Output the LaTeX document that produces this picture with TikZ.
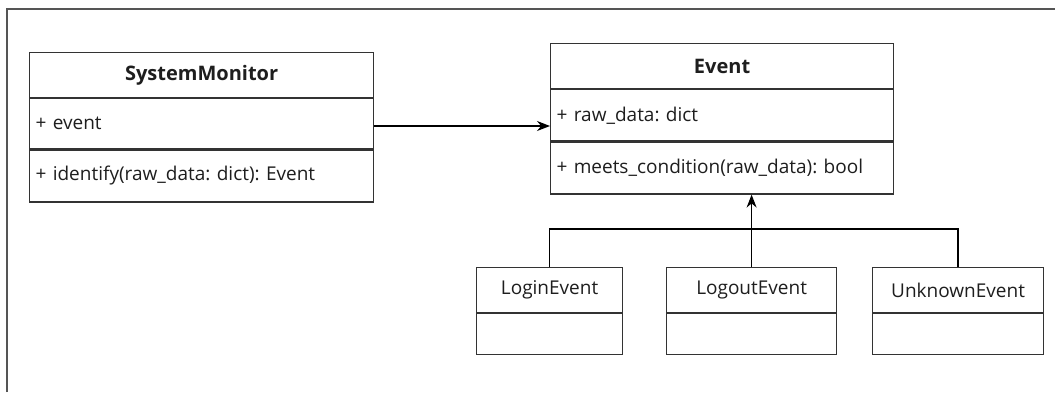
\documentclass[tikz,border=0pt]{standalone}
\usepackage{fontspec}
\setmainfont{Open Sans}
\usetikzlibrary{arrows.meta,calc}
\definecolor{linec}{HTML}{333333}
\definecolor{framec}{HTML}{555555}
\definecolor{textc}{HTML}{1E1E1E}
\frenchspacing
\begin{document}
\begin{tikzpicture}[x=1pt,y=1pt,
  box/.style={draw=linec, line width=1.2pt, rectangle, inner sep=0pt, anchor=north west,
    text=textc, font=\fontsize{19}{22}\selectfont},
  hdr/.style={box, font=\fontsize{20}{22}\selectfont\bfseries},
  sub/.style={box, font=\fontsize{19}{22}\selectfont},
  member/.style={box, align=left, inner xsep=6pt},
  conn/.style={draw=black, line width=1.3pt},
  arr/.style={conn, -{Stealth[length=13pt,width=10pt]}}]
\useasboundingbox (0,0) rectangle (1055,-392);
\fill[white] (0,0) rectangle (1055,-392);
% frame (only top and left edges visible)
\draw[framec, line width=2pt] (7,-392) -- (7,-9) -- (1055,-9);

% SystemMonitor
\node[hdr, minimum width=344pt, minimum height=45pt] (smh) at (29,-52) {SystemMonitor};
\node[member, text width=332pt, minimum height=50pt] (sma) at (smh.south west) {+ event};
\node[member, text width=332pt, minimum height=52pt] (smm) at (sma.south west) {+ identify(raw\_data: dict): Event};

% Event
\node[hdr, minimum width=343pt, minimum height=45pt] (evh) at (550,-43) {Event};
\node[member, text width=331pt, minimum height=51pt] (eva) at (evh.south west) {+ raw\_data: dict};
\node[member, text width=331pt, minimum height=52pt] (evm) at (eva.south west) {+ meets\_condition(raw\_data): bool};

% subclasses
\node[sub, minimum width=146pt, minimum height=45pt] (loh) at (476,-267) {LoginEvent};
\node[box, minimum width=146pt, minimum height=41pt] (lob) at (loh.south west) {};
\node[sub, minimum width=170pt, minimum height=45pt] (ouh) at (666,-267) {LogoutEvent};
\node[box, minimum width=170pt, minimum height=41pt] (oub) at (ouh.south west) {};
\node[sub, minimum width=171pt, minimum height=45pt] (unh) at (872,-267) {UnknownEvent};
\node[box, minimum width=171pt, minimum height=41pt] (unb) at (unh.south west) {};

% association
\coordinate (assocy) at (0,-126);
\draw[arr] (sma.east |- assocy) -- (eva.west |- assocy);

% generalization
\coordinate (bar) at (0,-229);
\draw[conn] (loh.north) -- (loh.north |- bar) -- (unh.north |- bar) -- (unh.north);
\draw[arr] (ouh.north) -- (ouh.north |- evm.south);
\end{tikzpicture}
\end{document}
